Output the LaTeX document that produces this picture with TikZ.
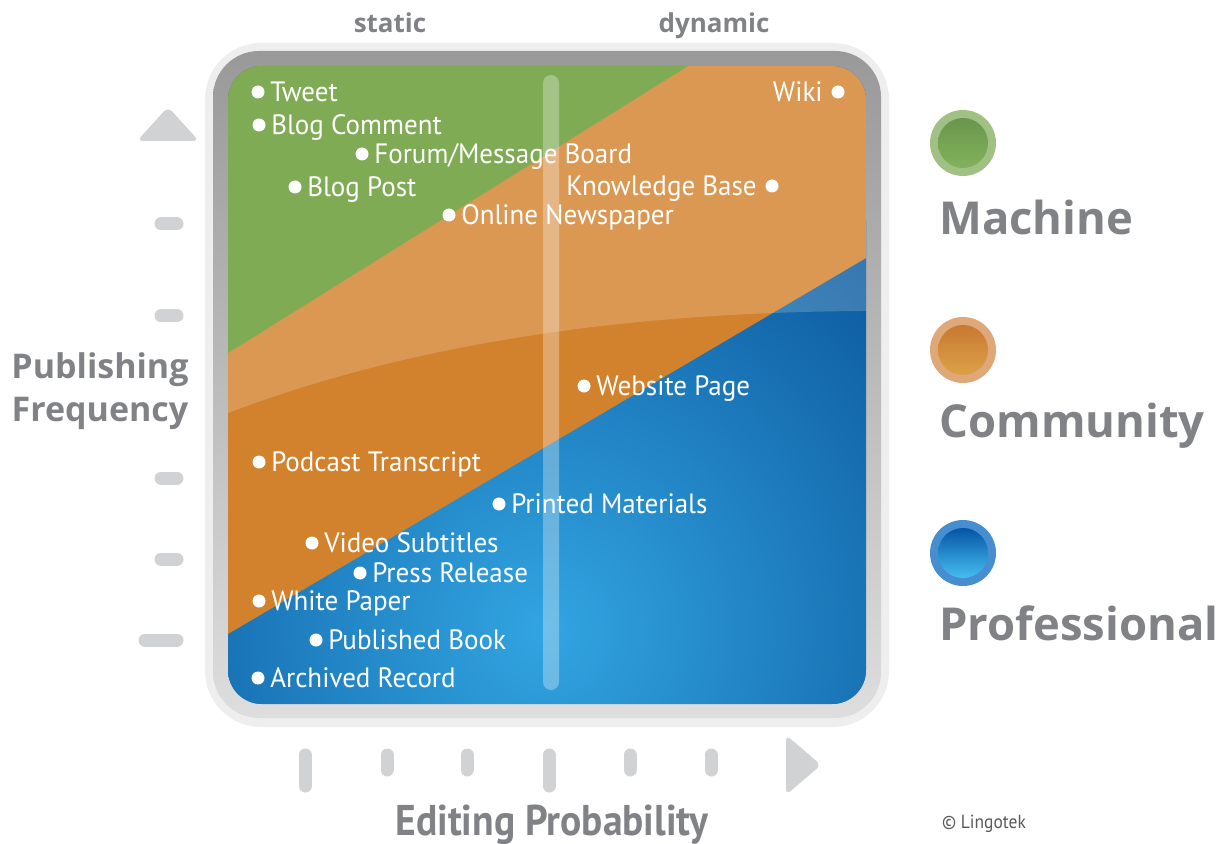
\documentclass[tikz,border=0pt]{standalone}
\usepackage{fontspec}
\setmainfont{Open Sans}
\newfontfamily\itemfont[FakeStretch=0.965]{PT Sans}
\newfontfamily\axisfont[FakeStretch=0.92]{PT Sans}
\usetikzlibrary{positioning}

\definecolor{axisgray}{HTML}{D1D2D4}
\definecolor{textgray}{HTML}{818286}
\definecolor{framelight}{HTML}{EEEEEF}
\definecolor{greenzone}{HTML}{62992F}
\definecolor{orangezone}{HTML}{D2822D}
\definecolor{bluezone}{HTML}{1477C0}
\definecolor{bluelight}{RGB}{50,165,225}
\definecolor{bluedark}{RGB}{10,85,155}
\definecolor{greenring}{RGB}{160,192,132}
\definecolor{greentop}{RGB}{105,150,75}
\definecolor{greenbottom}{RGB}{130,178,92}
\definecolor{orangering}{RGB}{222,168,120}
\definecolor{orangetop}{RGB}{200,120,50}
\definecolor{orangebottom}{RGB}{220,162,72}
\definecolor{bluering}{RGB}{70,142,208}
\definecolor{bluetop}{RGB}{5,85,165}
\definecolor{bluebottom}{RGB}{70,190,240}

\begin{document}
\begin{tikzpicture}[x=0.5pt,y=-0.5pt,
  item dot/.style={circle,fill=white,inner sep=0pt,minimum size=6.5pt},
  item label/.style={text=white,font=\itemfont\fontsize{14}{14}\selectfont,inner sep=0pt,text height=9.6pt,text depth=0pt},
  axis tick/.style={axisgray,line width=6.5pt,line cap=round},
  axis label/.style={text=textgray,font=\bfseries\fontsize{17}{21}\selectfont,align=center,inner sep=0pt},
  legend text/.style={text=textgray,font=\bfseries\fontsize{22.7}{23}\selectfont,inner sep=0pt}]
  \useasboundingbox (0,0) rectangle (1219,844);

  % frame
  \fill[framelight,rounded corners=28pt] (205,43) rectangle (889,727);
  \shade[top color=black!40,bottom color=black!13,rounded corners=23pt] (213,51) rectangle (881,718);

  % colour zones
  \begin{scope}
    \clip[rounded corners=17pt] (228,66) rectangle (866,704);
    \fill[bluezone] (228,66) rectangle (866,704);
    \shade[inner color=bluelight,outer color=bluedark] (545,630) circle (260pt);
    \fill[orangezone] (228,66) -- (866,66) -- (866,258) -- (228,634) -- cycle;
    \fill[greenzone] (228,66) -- (688,66) -- (228,353) -- cycle;
    \fill[white,opacity=0.18] (228,66) -- (866,66) -- (866,311) .. controls (640,312) and (420,340) .. (228,413) -- cycle;
    \fill[white,opacity=0.3,rounded corners=4pt] (543,75) rectangle (559,690);
  \end{scope}

  % items
  \node[item dot] (tweet) at (258,92) {};
  \node[item label,right=2.5pt of tweet] {Tweet};
  \node[item dot] (comment) at (259,125) {};
  \node[item label,right=2.5pt of comment] {Blog Comment};
  \node[item dot] (forum) at (362,154) {};
  \node[item label,right=2.5pt of forum] {Forum/Message Board};
  \node[item dot] (post) at (295,187) {};
  \node[item label,right=2.5pt of post] {Blog Post};
  \node[item dot] (newspaper) at (449,215) {};
  \node[item label,right=2.5pt of newspaper] {Online Newspaper};
  \node[item dot] (wiki) at (838,92) {};
  \node[item label,left=4pt of wiki] {Wiki};
  \node[item dot] (knowledge) at (772,186) {};
  \node[item label,left=4pt of knowledge] {Knowledge Base};
  \node[item dot] (website) at (584,386) {};
  \node[item label,right=2.5pt of website] {Website Page};
  \node[item dot] (podcast) at (259,462) {};
  \node[item label,right=2.5pt of podcast] {Podcast Transcript};
  \node[item dot] (printed) at (499,504) {};
  \node[item label,right=2.5pt of printed] {Printed Materials};
  \node[item dot] (subtitles) at (312,543) {};
  \node[item label,right=2.5pt of subtitles] {Video Subtitles};
  \node[item dot] (press) at (360,573) {};
  \node[item label,right=2.5pt of press] {Press Release};
  \node[item dot] (whitepaper) at (259,601) {};
  \node[item label,right=2.5pt of whitepaper] {White Paper};
  \node[item dot] (book) at (316,640) {};
  \node[item label,right=2.5pt of book] {Published Book};
  \node[item dot] (archive) at (258,678) {};
  \node[item label,right=2.5pt of archive] {Archived Record};

  % vertical axis
  \fill[axisgray,rounded corners=3pt] (137,141) -- (168,107) -- (199,141) -- cycle;
  \foreach \y in {224,316,478,559}
    \draw[axis tick] (161,\y) -- (177,\y);
  \draw[axis tick] (145,640) -- (177,640);
  \node[axis label,anchor=base] (frequency) at (100,421) {Publishing\\Frequency};

  % horizontal axis
  \foreach \x in {387,467,630,711}
    \draw[axis tick] (\x,755) -- (\x,770);
  \foreach \x in {305,549}
    \draw[axis tick] (\x,755) -- (\x,786);
  \fill[axisgray,rounded corners=3pt] (786,735) -- (821,765) -- (786,795) -- cycle;
  \node[text=textgray,font=\axisfont\bfseries\fontsize{21.5}{21.5}\selectfont,anchor=base] (editing) at (552,835) {Editing Probability};

  \node[text=textgray,font=\bfseries\fontsize{13}{13}\selectfont,anchor=base] (static) at (390,33) {static};
  \node[text=textgray,font=\bfseries\fontsize{13}{13}\selectfont,anchor=base] (dynamic) at (714,33) {dynamic};

  % legend
  \fill[greenring] (963,143) circle (16.5pt);
  \shade[top color=greentop,bottom color=greenbottom] (963,143) circle (12.5pt);
  \node[legend text,anchor=base west] (machine) at (939,235) {Machine};
  \fill[orangering] (963,350) circle (16.5pt);
  \shade[top color=orangetop,bottom color=orangebottom] (963,350) circle (12.5pt);
  \node[legend text,anchor=base west] (community) at (939,437) {Community};
  \fill[bluering] (963,553) circle (16.5pt);
  \shade[top color=bluetop,bottom color=bluebottom] (963,553) circle (12.5pt);
  \node[legend text,anchor=base west] (professional) at (939,640) {Professional};

  \node[text=black!65,font=\axisfont\fontsize{9.5}{9.5}\selectfont,anchor=base] (copyright) at (984,828) {\textcopyright\ Lingotek};
\end{tikzpicture}
\end{document}
